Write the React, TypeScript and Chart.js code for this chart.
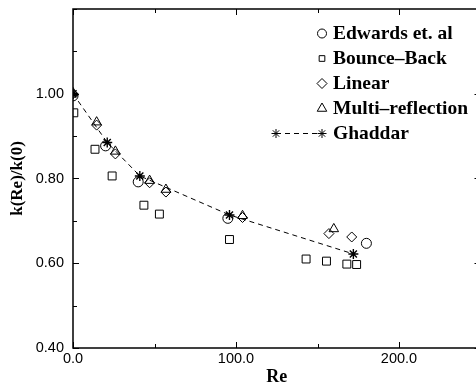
import React, { useEffect, useRef } from 'react';
import { Chart, registerables } from 'chart.js';
import { drawPoint } from 'chart.js/helpers';

Chart.register(...registerables);

// ---- data ----
const edwardsRe = [0, 20, 40, 95, 180];
const edwardsK = [0.995, 0.877, 0.792, 0.706, 0.647];

const bounceRe = [0.5, 13.5, 24, 43.5, 53, 96, 143, 155.5, 168, 174];
const bounceK = [0.955, 0.869, 0.806, 0.737, 0.716, 0.656, 0.61, 0.605, 0.598, 0.597];

const linearRe = [0, 14.5, 26, 47, 57, 104, 157, 171];
const linearK = [1.0, 0.926, 0.858, 0.79, 0.768, 0.708, 0.67, 0.662];

const multiRe = [0, 14.5, 26, 47, 57, 104, 160];
const multiK = [1.002, 0.933, 0.864, 0.795, 0.774, 0.712, 0.681];

const ghaddarRe = [0, 21, 41, 96, 172];
const ghaddarK = [1.0, 0.885, 0.806, 0.714, 0.622];

const seriesLabels = ['Edwards et. al', 'Bounce–Back', 'Linear', 'Multi–reflection', 'Ghaddar'];
const xTickLabels = ['0.0', '100.0', '200.0'];
const yTickLabels = ['0.40', '0.60', '0.80', '1.00'];

const toPts = (xs: number[], ys: number[]) => xs.map((x, i) => ({ x, y: ys[i] }));

const legendRadius = [4.5, 4, 5, 5.5, 4.5];

const framePlugin = {
  id: 'frameTicks',
  beforeDatasetsDraw(chart: any) {
    const { ctx, chartArea } = chart;
    const { left, right, top, bottom } = chartArea;
    ctx.save();
    ctx.strokeStyle = '#000';
    ctx.lineWidth = 1.5;
    ctx.strokeRect(left, top, right - left, bottom - top);
    ctx.lineWidth = 1;
    const xs = chart.scales.x;
    xs.ticks.forEach((t: any) => {
      const px = Math.round(xs.getPixelForValue(t.value)) + 0.5;
      const len = t.label !== '' ? 6 : 4;
      ctx.beginPath();
      ctx.moveTo(px, bottom);
      ctx.lineTo(px, bottom - len);
      ctx.moveTo(px, top);
      ctx.lineTo(px, top + len);
      ctx.stroke();
    });
    const ys = chart.scales.y;
    ys.ticks.forEach((t: any) => {
      const py = Math.round(ys.getPixelForValue(t.value)) + 0.5;
      const len = t.label !== '' ? 6 : 4;
      ctx.beginPath();
      ctx.moveTo(left, py);
      ctx.lineTo(left + len, py);
      ctx.moveTo(right, py);
      ctx.lineTo(right - len, py);
      ctx.stroke();
    });
    ctx.restore();
  },
};

const legendPlugin = {
  id: 'insetLegend',
  afterDatasetsDraw(chart: any) {
    const { ctx, chartArea } = chart;
    const x0 = chartArea.left + 249;
    let y = chartArea.top + 24.5;
    chart.data.datasets.forEach((ds: any, i: number) => {
      ctx.save();
      ctx.strokeStyle = '#000';
      ctx.fillStyle = 'rgba(0,0,0,0)';
      ctx.lineWidth = 1;
      if (ds.showLine) {
        ctx.save();
        ctx.setLineDash([5, 4]);
        ctx.beginPath();
        ctx.moveTo(x0 - 46, y);
        ctx.lineTo(x0, y);
        ctx.stroke();
        ctx.restore();
        drawPoint(ctx, { pointStyle: ds.pointStyle, radius: legendRadius[i], borderWidth: 1.3, rotation: 0 } as any, x0 - 46, y);
      }
      drawPoint(ctx, { pointStyle: ds.pointStyle, radius: legendRadius[i], borderWidth: ds.showLine ? 1.3 : 1, rotation: 0 } as any, x0, y);
      ctx.fillStyle = '#000';
      ctx.font = 'bold 19.5px "Liberation Serif"';
      ctx.textBaseline = 'middle';
      ctx.textAlign = 'left';
      ctx.fillText(ds.label, x0 + 11, y);
      ctx.restore();
      y += 25;
    });
  },
};

export default function App() {
  const ref = useRef<HTMLCanvasElement>(null);

  useEffect(() => {
    if (!ref.current) return;
    const common = {
      borderColor: '#000',
      backgroundColor: 'rgba(0,0,0,0)',
      pointBorderColor: '#000',
      pointBackgroundColor: 'rgba(0,0,0,0)',
      pointBorderWidth: 1,
      showLine: false,
    };
    const chart = new Chart(ref.current, {
      type: 'scatter',
      data: {
        datasets: [
          { ...common, label: seriesLabels[0], data: toPts(edwardsRe, edwardsK), pointStyle: 'circle', pointRadius: 5 },
          { ...common, label: seriesLabels[1], data: toPts(bounceRe, bounceK), pointStyle: 'rect', pointRadius: 5.6 },
          { ...common, label: seriesLabels[2], data: toPts(linearRe, linearK), pointStyle: 'rectRot', pointRadius: 5 },
          { ...common, label: seriesLabels[3], data: toPts(multiRe, multiK), pointStyle: 'triangle', pointRadius: 5.5 },
          {
            ...common,
            label: seriesLabels[4],
            data: toPts(ghaddarRe, ghaddarK),
            pointStyle: 'star',
            pointRadius: 5,
            pointBorderWidth: 1.4,
            showLine: true,
            borderWidth: 1,
            borderDash: [5, 4],
            tension: 0,
          },
        ],
      },
      options: {
        animation: false,
        responsive: false,
        maintainAspectRatio: false,
        devicePixelRatio: 1,
        layout: { padding: { top: 9, right: 9.5, bottom: 0, left: 0 } },
        plugins: { legend: { display: false }, tooltip: { enabled: false } },
        scales: {
          x: {
            type: 'linear',
            min: 0,
            max: 250,
            afterFit: (s: any) => { s.height = 38; s.paddingLeft = 0; s.paddingRight = 0; },
            grid: { display: false, drawTicks: false },
            border: { display: false },
            ticks: {
              stepSize: 50,
              autoSkip: false,
              maxRotation: 0,
              padding: 2,
              color: '#000',
              font: { family: '"Liberation Sans"', size: 14.5 },
              callback: (v: any) => {
                const s = Number(v).toFixed(1);
                return xTickLabels.includes(s) ? s : '';
              },
            },
            title: {
              display: true,
              text: 'Re',
              color: '#000',
              font: { family: '"Liberation Serif"', size: 18, weight: 'bold', lineHeight: 1 },
              padding: { top: 0, bottom: 0 },
            },
          },
          y: {
            type: 'linear',
            min: 0.4,
            max: 1.2,
            afterFit: (s: any) => { s.width = 73; s.paddingTop = 0; s.paddingBottom = 0; },
            grid: { display: false, drawTicks: false },
            border: { display: false },
            ticks: {
              stepSize: 0.1,
              autoSkip: false,
              padding: 9,
              color: '#000',
              font: { family: '"Liberation Sans"', size: 14.5 },
              callback: (v: any) => {
                const s = Number(v).toFixed(2);
                return yTickLabels.includes(s) ? s : '';
              },
            },
            title: {
              display: true,
              text: 'k(Re)/k(0)',
              color: '#000',
              font: { family: '"Liberation Serif"', size: 17, weight: 'bold', lineHeight: 1.2 },
              padding: { top: 7, bottom: 0 },
            },
          },
        },
      },
      plugins: [framePlugin, legendPlugin],
    } as any);
    return () => chart.destroy();
  }, []);

  return (
    <div style={{ position: 'fixed', left: 0, top: 0, width: 476, height: 386, overflow: 'hidden', background: '#fff' }}>
      <canvas ref={ref} width={490} height={386} style={{ display: 'block', width: 490, height: 386 }} />
    </div>
  );
}
